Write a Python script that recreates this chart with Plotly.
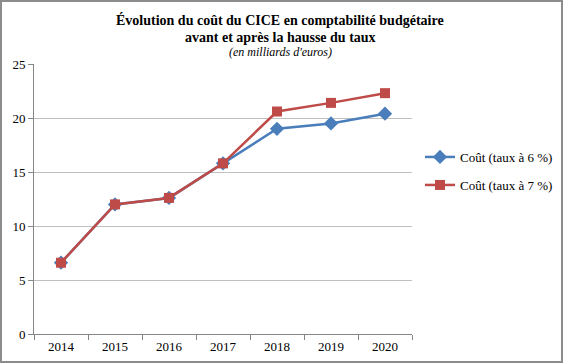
import plotly.graph_objects as go

years = ["2014", "2015", "2016", "2017", "2018", "2019", "2020"]
cout_6 = [6.6, 12.0, 12.6, 15.8, 19.0, 19.5, 20.4]
cout_7 = [6.6, 12.0, 12.6, 15.8, 20.6, 21.4, 22.3]
name_6 = "Coût (taux à 6 %)"
name_7 = "Coût (taux à 7 %)"

W, H = 563, 363
L, R, T, B = 34, 151, 64, 29
pw, ph = W - L - R, H - T - B
FONT = "Liberation Serif"

def px_x(p):
    return (p - L) / pw

def px_y(p):
    return (H - B - p) / ph

fig = go.Figure()
fig.add_trace(go.Scatter(x=years, y=cout_6, name=name_6, mode="lines+markers",
                         line=dict(color="#4a7ebb", width=2.5),
                         marker=dict(symbol="diamond", size=11, color="#4a7ebb"),
                         legend="legend"))
fig.add_trace(go.Scatter(x=years, y=cout_7, name=name_7, mode="lines+markers",
                         line=dict(color="#be4b48", width=2.5),
                         marker=dict(symbol="square", size=10, color="#be4b48"),
                         legend="legend2"))

annos = [
    dict(text="<b>Évolution du coût du CICE en comptabilité budgétaire</b>", y=px_y(20), size=14),
    dict(text="<b>avant et après la hausse du taux</b>", y=px_y(38), size=14),
    dict(text="<i>(en milliards d'euros)</i>", y=px_y(52), size=12),
]
for a in annos:
    fig.add_annotation(text=a["text"], x=px_x(280), y=a["y"], xref="paper", yref="paper",
                       showarrow=False, xanchor="center", yanchor="middle",
                       font=dict(family=FONT, size=a["size"], color="black"))

fig.add_shape(type="rect", xref="paper", yref="paper",
              x0=px_x(1), x1=px_x(W - 1), y0=px_y(H - 1), y1=px_y(1),
              line=dict(color="#8c8c8c", width=2))

leg_common = dict(xanchor="left", yanchor="middle", bgcolor="rgba(0,0,0,0)",
                  itemwidth=30,
                  font=dict(family=FONT, size=13, color="black"))

fig.update_layout(
    width=W, height=H,
    margin=dict(l=L, r=R, t=T, b=B, autoexpand=False),
    paper_bgcolor="white", plot_bgcolor="white",
    font=dict(family=FONT, size=13, color="black"),
    showlegend=True,
    legend=dict(x=px_x(420), y=px_y(157), **leg_common),
    legend2=dict(x=px_x(420), y=px_y(185), **leg_common),
    xaxis=dict(type="category", showgrid=False, showline=True, linecolor="#868686",
               linewidth=1, ticks="outside", tickson="boundaries", ticklen=5,
               tickcolor="#868686", tickfont=dict(family=FONT, size=13, color="black"),
               range=[-0.5, 6.5]),
    yaxis=dict(range=[0, 25], dtick=5, showgrid=True, gridcolor="#c0c0c0", gridwidth=1,
               showline=True, linecolor="#868686", linewidth=1, ticks="outside",
               ticklen=5, tickcolor="#868686", zeroline=False,
               tickfont=dict(family=FONT, size=13, color="black")),
)

fig.write_html("out.html", config={"displayModeBar": False},
               post_script="document.body.style.margin='0';")
